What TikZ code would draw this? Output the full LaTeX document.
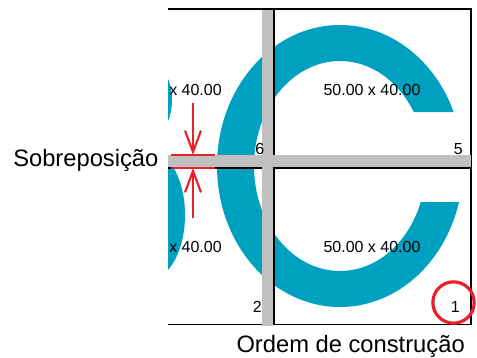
\documentclass[tikz,border=0pt]{standalone}
\usepackage{fontspec}
\setmainfont{Liberation Sans}
\usetikzlibrary{arrows.meta}
\definecolor{cteal}{RGB}{0,161,192}
\definecolor{cred}{RGB}{232,32,42}
\definecolor{cgray}{RGB}{192,192,192}

\begin{document}
\begin{tikzpicture}[
    x=0.75pt, y=-0.75pt,
    >={Straight Barb[length=16pt, width=12pt]},
    tilenum/.style={font=\fontsize{12}{12}\selectfont, anchor=base east, inner sep=0pt},
    tilesize/.style={font=\fontsize{12}{12}\selectfont, anchor=base, inner sep=0pt},
    caption/.style={font=\fontsize{17.8}{20}\selectfont, inner sep=0pt},
    bar/.style={fill=cgray, draw=none},
    frameline/.style={black, line width=1pt},
    redline/.style={cred, line width=1.6pt},
]
    \useasboundingbox (0,0) rectangle (477,357);

    % Letter shapes (clipped to the tiles)
    \begin{scope}
        \clip (168,9) rectangle (471,324.5);
        \begin{scope}
            \clip (0,0) rectangle (477,112) (0,112) rectangle (300,202) (0,202) rectangle (477,357);
            \fill[cteal, even odd rule] (340,166) ellipse [x radius=123, y radius=141]
                (340,166) ellipse [x radius=86, y radius=105];
        \end{scope}
        \begin{scope}
            \clip (168,9) rectangle (262,324.5);
            \fill[cteal] (140,100) ellipse [x radius=32, y radius=44];
            \fill[cteal] (150,215) ellipse [x radius=35, y radius=64];
        \end{scope}
    \end{scope}

    % Tile borders
    \draw[frameline] (168,9) -- (471,9) -- (471,324.5) -- (168,324.5);
    \draw[frameline] (274,9) -- (274,324.5);
    \draw[frameline] (168,168) -- (471,168);

    % Overlap bars
    \fill[bar] (262,9.8) rectangle (273,326);
    \fill[bar] (168,155) rectangle (471,167.4);

    % Tile sizes
    \node[tilesize, anchor=base west] (szA) at (169,95) {x 40.00};
    \node[tilesize] (szB) at (372,95) {50.00 x 40.00};
    \node[tilesize, anchor=base west] (szC) at (169,252) {x 40.00};
    \node[tilesize] (szD) at (372,252) {50.00 x 40.00};

    % Build order
    \node[tilenum] (n6) at (264.5,154) {6};
    \node[tilenum] (n5) at (463,154) {5};
    \node[tilenum] (n2) at (262,312) {2};
    \node[tilenum] (n1) at (460,312) {1};
    \node[draw=cred, circle, line width=2.4pt, minimum size=31pt, inner sep=0pt] (mark) at (453.5,302.5) {};

    % Overlap marker
    \coordinate (lapT) at (193,155);
    \coordinate (lapB) at (193,168);
    \coordinate (arrT) at (193,103);
    \coordinate (arrB) at (193,218);
    \coordinate (lapTL) at (171,155);
    \coordinate (lapTR) at (215,155);
    \coordinate (lapBL) at (171,168);
    \coordinate (lapBR) at (215,168);
    \draw[redline] (lapTL) -- (lapTR);
    \draw[redline] (lapBL) -- (lapBR);
    \draw[redline, ->] (arrT) -- (lapT);
    \draw[redline, ->] (arrB) -- (lapB);

    % Captions
    \node[caption, anchor=base west] (overlap) at (13,166) {Sobreposição};
    \node[caption, anchor=base east] (order) at (465,352) {Ordem de construção};
\end{tikzpicture}
\end{document}
